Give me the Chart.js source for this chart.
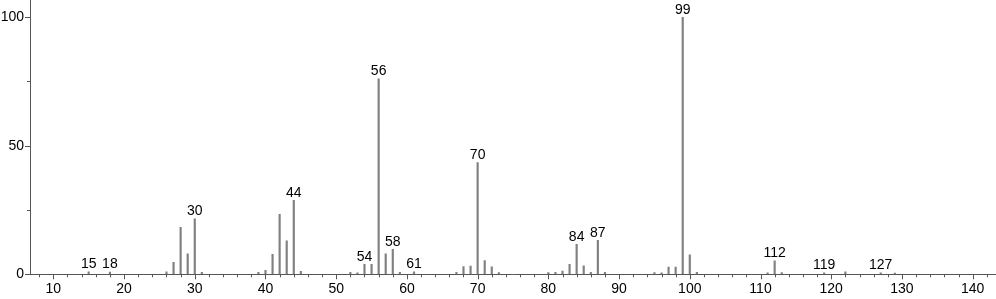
<!DOCTYPE html>
<html>
<head>
<meta charset="utf-8">
<script src="https://cdn.jsdelivr.net/npm/chart.js@4.4.1/dist/chart.umd.min.js"></script>
<style>
html,body{margin:0;padding:0;background:#fff;}
#wrap{width:996px;height:299px;position:relative;}
</style>
</head>
<body>
<div id="wrap"><canvas id="c"></canvas></div>
<script>
const mz =        [15, 18, 26, 27, 28,   29, 30,   31,  39,  40,  41,  42,   43, 44,   45,  52,  53,  54,  55,  56, 57,  58,  59,  61,  67,  68, 69,  70,   71,  72,  73,  80,  81,  82,  83,  84,   85,  86,  87,   88,  95,  96,  97,  98,  99,  100, 101, 111, 112, 113, 119, 122, 127, 129];
const intensity = [1.0,0.9,1.0,4.7,18.3, 8.0,21.6, 0.8, 0.8, 1.5, 7.8, 23.3, 13.0,28.8, 1.2, 0.8, 0.6, 3.9, 3.9, 76, 8.0, 9.7, 0.8, 1.0, 0.8, 3.0, 3.2, 43.5, 5.3, 2.9, 0.7, 0.7, 0.8, 1.3, 3.9, 11.7, 3.3, 0.8, 13.2, 0.8, 0.7, 0.6, 2.8, 2.8, 100, 7.6, 0.8, 0.6, 5.2, 0.7, 0.6, 1.0, 0.6, 0.5];
const labelledPeaks = [15, 18, 30, 44, 54, 56, 58, 61, 70, 84, 87, 99, 112, 119, 127];
const xMajorTicks = [10, 20, 30, 40, 50, 60, 70, 80, 90, 100, 110, 120, 130, 140];
const yTicks = [0, 25, 50, 75, 100];
const yLabelled = [0, 50, 100];

const FONT = '"Liberation Sans", Arial, sans-serif';
const AXIS = '#555555';

const tickPlugin = {
  id: 'ticks',
  afterDraw(chart) {
    const ctx = chart.ctx, xs = chart.scales.x, ys = chart.scales.y;
    const y0 = ys.getPixelForValue(0);
    const xAxis = xs.left;
    ctx.save();
    ctx.strokeStyle = AXIS;
    ctx.lineWidth = 1;
    ctx.beginPath();
    for (let v = 8; v <= 142; v += 2) {
      const px = Math.round(xs.getPixelForValue(v)) + 0.5;
      const len = v % 10 === 0 ? 5 : 3;
      ctx.moveTo(px, y0);
      ctx.lineTo(px, y0 + len);
    }
    yTicks.forEach(v => {
      const py = Math.round(ys.getPixelForValue(v)) + 0.5;
      const len = yLabelled.includes(v) ? 5 : 3;
      ctx.moveTo(xAxis, py);
      ctx.lineTo(xAxis - len, py);
    });
    ctx.stroke();
    ctx.restore();
  },
  afterDatasetsDraw(chart) {
    const ctx = chart.ctx;
    const meta = chart.getDatasetMeta(0);
    ctx.save();
    ctx.fillStyle = '#000';
    ctx.font = '14px ' + FONT;
    ctx.textAlign = 'center';
    ctx.textBaseline = 'alphabetic';
    mz.forEach((m, i) => {
      if (!labelledPeaks.includes(m)) return;
      const el = meta.data[i];
      ctx.fillText(String(m), el.x, el.y - 3.5);
    });
    ctx.restore();
  }
};

function noPad(s) { s.paddingTop = 0; s.paddingBottom = 0; s.paddingLeft = 0; s.paddingRight = 0; }

new Chart(document.getElementById('c'), {
  type: 'bar',
  data: {
    datasets: [{
      data: mz.map((m, i) => ({x: m, y: intensity[i]})),
      backgroundColor: '#808080',
      borderWidth: 0,
      barThickness: 1.5,
      grouped: false
    }]
  },
  options: {
    responsive: true,
    maintainAspectRatio: false,
    animation: false,
    layout: {padding: 0},
    plugins: {legend: {display: false}, tooltip: {enabled: false}},
    scales: {
      x: {
        type: 'linear',
        offset: false,
        min: 6.7,
        max: 143.3,
        afterBuildTicks: s => { s.ticks = xMajorTicks.map(v => ({value: v})); },
        afterFit: s => { s.height = 24.7; noPad(s); },
        grid: {display: true, drawOnChartArea: false, drawTicks: false, offset: false},
        border: {display: true, color: AXIS, width: 1},
        ticks: {color: '#000', font: {family: FONT, size: 14}, padding: 6, maxRotation: 0, autoSkip: false}
      },
      y: {
        type: 'linear',
        min: 0,
        max: 106.7,
        afterBuildTicks: s => { s.ticks = yTicks.map(v => ({value: v})); },
        afterFit: s => { s.width = 30; noPad(s); },
        grid: {display: true, drawOnChartArea: false, drawTicks: false},
        border: {display: true, color: AXIS, width: 1},
        ticks: {color: '#000', font: {family: FONT, size: 14}, padding: 6,
          callback: v => yLabelled.includes(v) ? String(v) : ''}
      }
    }
  },
  plugins: [tickPlugin]
});
</script>
</body>
</html>
